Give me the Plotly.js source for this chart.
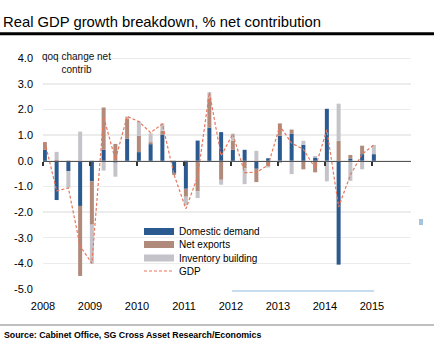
<!DOCTYPE html>
<html><head><meta charset="utf-8">
<script src="https://cdn.plot.ly/plotly-3.0.1.min.js"></script>
<style>html,body{margin:0;padding:0;background:#fff}#chart{width:443px;height:352px}</style>
</head><body><div id="chart"></div>
<script>
const quarters = ['2008Q1','2008Q2','2008Q3','2008Q4','2009Q1','2009Q2','2009Q3','2009Q4',
  '2010Q1','2010Q2','2010Q3','2010Q4','2011Q1','2011Q2','2011Q3','2011Q4',
  '2012Q1','2012Q2','2012Q3','2012Q4','2013Q1','2013Q2','2013Q3','2013Q4',
  '2014Q1','2014Q2','2014Q3','2014Q4','2015Q1'];
const domesticDemand = [0.43,-1.53,-0.40,-1.76,-0.80,0.43,-0.07,0.86,
  0.34,0.65,1.01,-0.47,-1.09,0.79,1.30,1.12,
  0.43,0.43,-0.31,0.10,0.98,1.05,0.62,0.13,
  2.03,-4.05,0.09,0.26,0.26];
const netExports = [0.30,0.05,0.00,-2.73,-1.69,1.65,0.66,0.77,
  0.64,0.08,0.16,-0.08,-0.31,-1.19,1.14,-0.74,
  0.35,-0.29,-0.52,-0.22,0.48,0.17,-0.33,-0.45,
  0.00,0.78,0.14,0.33,0.00];
const inventoryBuilding = [0.00,0.30,-0.65,1.14,-1.52,-0.38,-0.55,0.10,
  0.56,0.34,0.29,0.00,-0.33,-0.26,0.23,-0.19,
  0.28,-0.62,0.39,-0.04,-0.09,-0.52,0.16,0.06,
  -0.80,1.45,-0.78,-0.33,0.36];
const gdp = [0.73,-1.17,-1.06,-3.33,-4.00,1.72,0.04,1.73,
  1.53,1.10,1.44,-0.55,-1.87,-0.62,2.67,0.19,
  1.05,-0.46,-0.45,-0.17,1.36,0.69,0.45,-0.28,
  1.21,-1.80,-0.55,0.26,0.62];
const yearTicks = [2008,2009,2010,2011,2012,2013,2014,2015];
const yearLabels = ['2008','2009','2010','2011','2012','2013','2014','2015'];
const yTicks = [4,3,2,1,0,-1,-2,-3,-4,-5];
const yTickLabels = ['4.0','3.0','2.0','1.0','0.0','-1.0','-2.0','-3.0','-4.0','-5.0'];

function quarterToX(label){
  const yr = parseInt(label.slice(0,4),10);
  const q = parseInt(label.slice(5),10);
  return yr + (q-1)*0.25 + 0.04;
}
const xs = quarters.map(quarterToX);

const C_DD = '#2b5a91', C_NX = '#b08a7b', C_INV = '#c3c3c9', C_GDP = '#e8775b';
const BW = 0.085;

const traces = [
  {type:'bar', name:'Domestic demand', x:xs, y:domesticDemand, width:BW,
   marker:{color:C_DD, line:{width:0}}, showlegend:false, legendgroup:'dd'},
  {type:'bar', name:'Net exports', x:xs, y:netExports, width:BW,
   marker:{color:C_NX, line:{width:0}}, showlegend:false, legendgroup:'nx'},
  {type:'bar', name:'Inventory building', x:xs, y:inventoryBuilding, width:BW,
   marker:{color:C_INV, line:{width:0}}, showlegend:false, legendgroup:'inv'},
  {type:'scatter', mode:'lines', name:'GDP', x:xs, y:gdp, xaxis:'x2', yaxis:'y',
   line:{color:C_GDP, width:1.2, dash:'3px,2px'}, legend:'legend4'},
  {type:'scatter', mode:'lines', name:'Domestic demand', x:[null], y:[null],
   line:{color:C_DD, width:7}, legend:'legend', legendgroup:'dd', hoverinfo:'skip'},
  {type:'scatter', mode:'lines', name:'Net exports', x:[null], y:[null],
   line:{color:C_NX, width:7}, legend:'legend2', legendgroup:'nx', hoverinfo:'skip'},
  {type:'scatter', mode:'lines', name:'Inventory building', x:[null], y:[null],
   line:{color:C_INV, width:7}, legend:'legend3', legendgroup:'inv', hoverinfo:'skip'}
];

const L = 43, W = 368, T = 57, H = 232;
const px = v => (v - L) / W;
const py = v => (T + H - v) / H;

function mkLegend(yc){
  return {x:px(139), xanchor:'left', y:py(yc), yanchor:'middle',
    bgcolor:'rgba(0,0,0,0)', borderwidth:0, itemwidth:30,
    font:{size:10, color:'#000', family:'Liberation Sans, Arial, sans-serif'}};
}

const layout = {
  width:443, height:352,
  margin:{l:L, r:443-L-W, t:T, b:352-T-H},
  paper_bgcolor:'#fff', plot_bgcolor:'#fff',
  barmode:'relative',
  font:{family:'Liberation Sans, Arial, sans-serif', color:'#000'},
  title:{text:'Real GDP growth breakdown, % net contribution',
    font:{size:14.8, color:'#000'}, x:3/443, xanchor:'left', xref:'container',
    y:1-21.5/352, yanchor:'middle', yref:'container'},
  xaxis:{range:[2008, 2015.83], tickvals:yearTicks, ticktext:yearLabels,
    showgrid:false, zeroline:false, showline:false, ticks:'',
    tickfont:{size:11, color:'#000'}, ticklabelstandoff:9, fixedrange:true},
  xaxis2:{overlaying:'x', anchor:'free', position:5/9.05, side:'bottom',
    range:[2008, 2015.83], tickvals:yearTicks, showticklabels:false,
    ticks:'outside', ticklen:4, tickwidth:1.5, tickcolor:'#333',
    showline:true, linecolor:'#555', linewidth:1.5, showgrid:false, zeroline:false},
  yaxis:{range:[-5, 4.05], tickvals:yTicks, ticktext:yTickLabels,
    gridcolor:'#ececec', gridwidth:1.5, zeroline:false, showline:false, ticks:'',
    tickfont:{size:11, color:'#000'}, ticklabelstandoff:9},
  legend:mkLegend(231.5),
  legend2:mkLegend(244.5),
  legend3:mkLegend(258),
  legend4:mkLegend(271),
  annotations:[
    {text:'qoq change net<br>contrib', xref:'paper', yref:'paper', x:px(76), y:py(62.8),
     xanchor:'center', yanchor:'middle', showarrow:false, align:'center',
     font:{size:10, color:'#111'}},
    {text:'Source: Cabinet Office, SG Cross Asset Research/Economics', xref:'paper', yref:'paper',
     x:px(2), y:py(334.5), xanchor:'left', yanchor:'middle', showarrow:false,
     font:{size:8.8, color:'#000', weight:'bold'}}
  ],
  shapes:[
    {type:'line', xref:'paper', yref:'paper', x0:px(0), x1:px(434), y0:py(33.8), y1:py(33.8),
     line:{color:'#000', width:3}},
    {type:'line', xref:'paper', yref:'paper', x0:px(0), x1:px(434), y0:py(325), y1:py(325),
     line:{color:'#808080', width:1}},
    {type:'line', xref:'paper', yref:'paper', x0:px(232), x1:px(374), y0:py(291), y1:py(291),
     line:{color:'#c8dcf0', width:2}},
    {type:'rect', xref:'paper', yref:'paper', x0:px(419), x1:px(423), y0:py(225), y1:py(219),
     line:{width:0}, fillcolor:'#a6c4dc'}
  ]
};

Plotly.newPlot('chart', traces, layout, {staticPlot:true, displayModeBar:false});
</script>
</body></html>
